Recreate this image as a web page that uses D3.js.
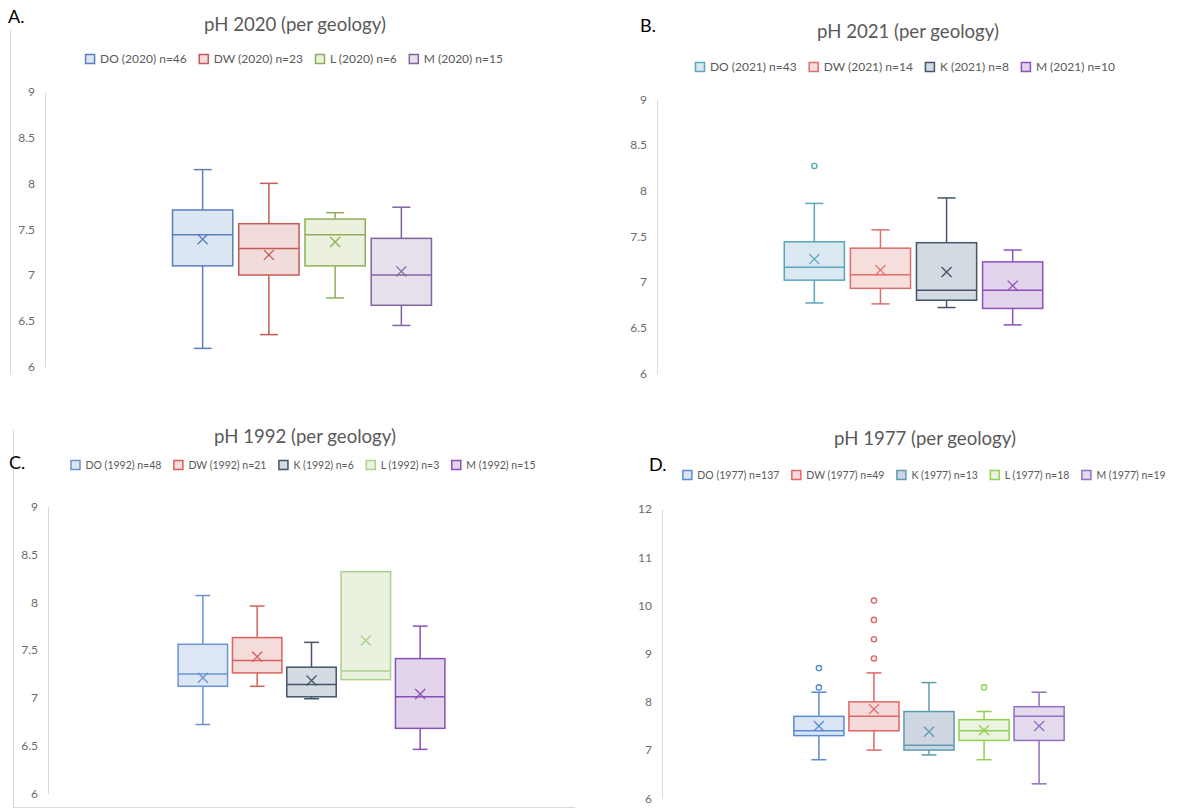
<!DOCTYPE html>
<html><head><meta charset="utf-8">
<script src="https://cdn.jsdelivr.net/npm/d3@7"></script>
<style>
body{margin:0;background:#fff;}
svg{display:block;font-family:Lato,"Open Sans",sans-serif;}
</style>
</head><body>
<svg id="chart" width="1199" height="809"></svg>
<script>
// ---------- Panel A : pH 2020 ----------
const seriesA = ["DO (2020) n=46","DW (2020) n=23","L (2020) n=6","M (2020) n=15"];
const minA  = [6.20, 6.35, 6.75, 6.45];
const q1A   = [7.10, 7.00, 7.10, 6.67];
const medA  = [7.44, 7.29, 7.44, 7.00];
const q3A   = [7.71, 7.56, 7.61, 7.40];
const maxA  = [8.15, 8.00, 7.68, 7.74];
const meanA = [7.39, 7.22, 7.36, 7.04];
const outA  = [[], [], [], []];
const ticksA = [6, 6.5, 7, 7.5, 8, 8.5, 9];

// ---------- Panel B : pH 2021 ----------
const seriesB = ["DO (2021) n=43","DW (2021) n=14","K (2021) n=8","M (2021) n=10"];
const minB  = [6.77, 6.76, 6.72, 6.53];
const q1B   = [7.02, 6.93, 6.80, 6.71];
const medB  = [7.16, 7.08, 6.91, 6.91];
const q3B   = [7.44, 7.37, 7.43, 7.22];
const maxB  = [7.86, 7.57, 7.92, 7.35];
const meanB = [7.25, 7.13, 7.11, 6.96];
const outB  = [[8.27], [], [], []];
const ticksB = [6, 6.5, 7, 7.5, 8, 8.5, 9];

// ---------- Panel C : pH 1992 ----------
const seriesC = ["DO (1992) n=48","DW (1992) n=21","K (1992) n=6","L (1992) n=3","M (1992) n=15"];
const minC  = [6.72, 7.12, 6.99, 7.19, 6.46];
const q1C   = [7.12, 7.26, 7.01, 7.19, 6.68];
const medC  = [7.25, 7.39, 7.14, 7.28, 7.01];
const q3C   = [7.56, 7.63, 7.32, 8.32, 7.41];
const maxC  = [8.07, 7.96, 7.58, 8.32, 7.75];
const meanC = [7.21, 7.43, 7.18, 7.60, 7.04];
const outC  = [[], [], [], [], []];
const ticksC = [6, 6.5, 7, 7.5, 8, 8.5, 9];

// ---------- Panel D : pH 1977 ----------
const seriesD = ["DO (1977) n=137","DW (1977) n=49","K (1977) n=13","L (1977) n=18","M (1977) n=19"];
const minD  = [6.8, 7.0, 6.9, 6.8, 6.3];
const q1D   = [7.3, 7.4, 7.0, 7.2, 7.2];
const medD  = [7.4, 7.7, 7.1, 7.4, 7.7];
const q3D   = [7.7, 8.0, 7.8, 7.63, 7.9];
const maxD  = [8.2, 8.6, 8.4, 7.8, 8.2];
const meanD = [7.5, 7.85, 7.38, 7.41, 7.5];
const outD  = [[8.3, 8.7], [8.9, 9.3, 9.7, 10.1], [], [8.3], []];
const ticksD = [6, 7, 8, 9, 10, 11, 12];

// ---------- styles / layout ----------
const panels = [
  {letter:"A.", title:"pH 2020 (per geology)", series:seriesA, min:minA, q1:q1A, med:medA, q3:q3A, max:maxA, mean:meanA, out:outA, ticks:ticksA,
   left:45, right:559, top:91.7, bottom:366.7, titleX:295, titleY:31, letterX:8, letterY:23, legendX:294, legendY:59, legendFont:12,
   stroke:["#5a7ebe","#c55a57","#8fb05a","#8064a2"], fill:["#dce5f2","#f2dcdb","#ebf1de","#e5e0ec"]},
  {letter:"B.", title:"pH 2021 (per geology)", series:seriesB, min:minB, q1:q1B, med:medB, q3:q3B, max:maxB, mean:meanB, out:outB, ticks:ticksB,
   left:657, right:1170, top:99.3, bottom:373.3, titleX:908, titleY:38, letterX:640, letterY:32, legendX:905, legendY:67, legendFont:12,
   stroke:["#5aa6bd","#e06c6c","#44546a","#8e4fbf"], fill:["#dae8f1","#f5dedc","#d4dae2","#e2d4ec"]},
  {letter:"C.", title:"pH 1992 (per geology)", series:seriesC, min:minC, q1:q1C, med:medC, q3:q3C, max:maxC, mean:meanC, out:outC, ticks:ticksC,
   left:48, right:575, top:506.7, bottom:793.3, titleX:305, titleY:443, letterX:9, letterY:469, legendX:303, legendY:465, legendFont:10.5,
   stroke:["#6a94d4","#d9605e","#44546a","#a9d18e","#8a4fb8"], fill:["#dde7f4","#f4dcdb","#d5dbe3","#eaf2df","#e1d4eb"]},
  {letter:"D.", title:"pH 1977 (per geology)", series:seriesD, min:minD, q1:q1D, med:medD, q3:q3D, max:maxD, mean:meanD, out:outD, ticks:ticksD,
   left:662, right:1196, top:509, bottom:798.3, titleX:925, titleY:445, letterX:649, letterY:471, legendX:924, legendY:475, legendFont:10.5,
   stroke:["#5b8bd4","#e06666","#5f9bb0","#92d050","#9070c0"], fill:["#dbe6f4","#f4dada","#ced6e1","#ebf4e0","#e5dbef"]}
];

const svg = d3.select("#chart");

// frame lines of the composed figure
svg.append("line").attr("x1",10.5).attr("x2",10.5).attr("y1",30).attr("y2",374).attr("stroke","#d9d9d9").attr("stroke-width",1);
svg.append("line").attr("x1",13.5).attr("x2",13.5).attr("y1",430).attr("y2",808).attr("stroke","#d9d9d9").attr("stroke-width",1);
svg.append("line").attr("x1",13).attr("x2",575).attr("y1",807.5).attr("y2",807.5).attr("stroke","#d9d9d9").attr("stroke-width",1);

panels.forEach(p => {
  const g = svg.append("g");
  const y = d3.scaleLinear().domain(d3.extent(p.ticks)).range([p.bottom, p.top]);
  const x0 = d3.scaleBand().domain(["all"]).range([p.left, p.right]).paddingOuter(0.47).paddingInner(0);
  const x1 = d3.scaleBand().domain(p.series).range([0, x0.bandwidth()]).paddingInner(0.09).paddingOuter(0.045);

  // y axis
  const ax = g.append("g").attr("transform", `translate(${p.left},0)`)
    .call(d3.axisLeft(y).tickValues(p.ticks).tickSize(0).tickPadding(10).tickFormat(d3.format("")));
  ax.select(".domain").attr("stroke","#d9d9d9").attr("stroke-width",1);
  ax.selectAll("text").attr("fill","#6b6b6b").style("font-size","12px").style("font-family","Lato, sans-serif");

  // title + letter
  g.append("text").attr("x",p.titleX).attr("y",p.titleY).attr("text-anchor","middle")
    .attr("fill","#595959").style("font-size","18.6px").text(p.title);
  g.append("text").attr("x",p.letterX).attr("y",p.letterY).attr("fill","#000")
    .style("font-size","18px").text(p.letter);

  // boxes
  const idx = d3.range(p.series.length);
  idx.forEach(i => {
    const s = p.series[i];
    const bx = x0("all") + x1(s);
    const bw = x1.bandwidth();
    const cx = bx + bw/2;
    const cw = bw * 0.3;
    const col = p.stroke[i];
    const bg = g.append("g").attr("stroke", col).attr("stroke-width", 1.5).attr("fill","none");
    if (p.max[i] > p.q3[i]) {
      bg.append("line").attr("x1",cx).attr("x2",cx).attr("y1",y(p.q3[i])).attr("y2",y(p.max[i]));
      bg.append("line").attr("x1",cx-cw/2).attr("x2",cx+cw/2).attr("y1",y(p.max[i])).attr("y2",y(p.max[i]));
    }
    if (p.min[i] < p.q1[i]) {
      bg.append("line").attr("x1",cx).attr("x2",cx).attr("y1",y(p.q1[i])).attr("y2",y(p.min[i]));
      bg.append("line").attr("x1",cx-cw/2).attr("x2",cx+cw/2).attr("y1",y(p.min[i])).attr("y2",y(p.min[i]));
    }
    bg.append("rect").attr("x",bx).attr("y",y(p.q3[i])).attr("width",bw)
      .attr("height",y(p.q1[i]) - y(p.q3[i])).attr("fill",p.fill[i]);
    bg.append("line").attr("x1",bx).attr("x2",bx+bw).attr("y1",y(p.med[i])).attr("y2",y(p.med[i]));
    const my = y(p.mean[i]), r = 5;
    bg.append("path").attr("d",`M${cx-r},${my-r}L${cx+r},${my+r}M${cx-r},${my+r}L${cx+r},${my-r}`).attr("stroke-width",1.3);
    bg.selectAll("circle.o").data(p.out[i]).join("circle").attr("class","o")
      .attr("cx",cx).attr("cy",d=>y(d)).attr("r",2.6).attr("fill","#fff").attr("stroke-width",1.4);
  });

  // legend
  const lg = g.append("g");
  const sq = 9, gapT = 6, gapI = 12;
  let xpos = 0;
  p.series.forEach((s,i) => {
    const it = lg.append("g");
    it.append("rect").attr("x",0.5).attr("y",-sq/2).attr("width",sq).attr("height",sq)
      .attr("fill",p.fill[i]).attr("stroke",p.stroke[i]).attr("stroke-width",1.5);
    const t = it.append("text").attr("x",sq+gapT).attr("y",0).attr("dy","0.35em")
      .attr("fill","#595959").style("font-size",p.legendFont+"px").text(s);
    const w = sq + gapT + t.node().getComputedTextLength();
    it.attr("transform",`translate(${xpos},0)`);
    xpos += w + gapI;
  });
  const total = xpos - gapI;
  lg.attr("transform",`translate(${p.legendX - total/2},${p.legendY})`);
});
</script>
</body></html>
